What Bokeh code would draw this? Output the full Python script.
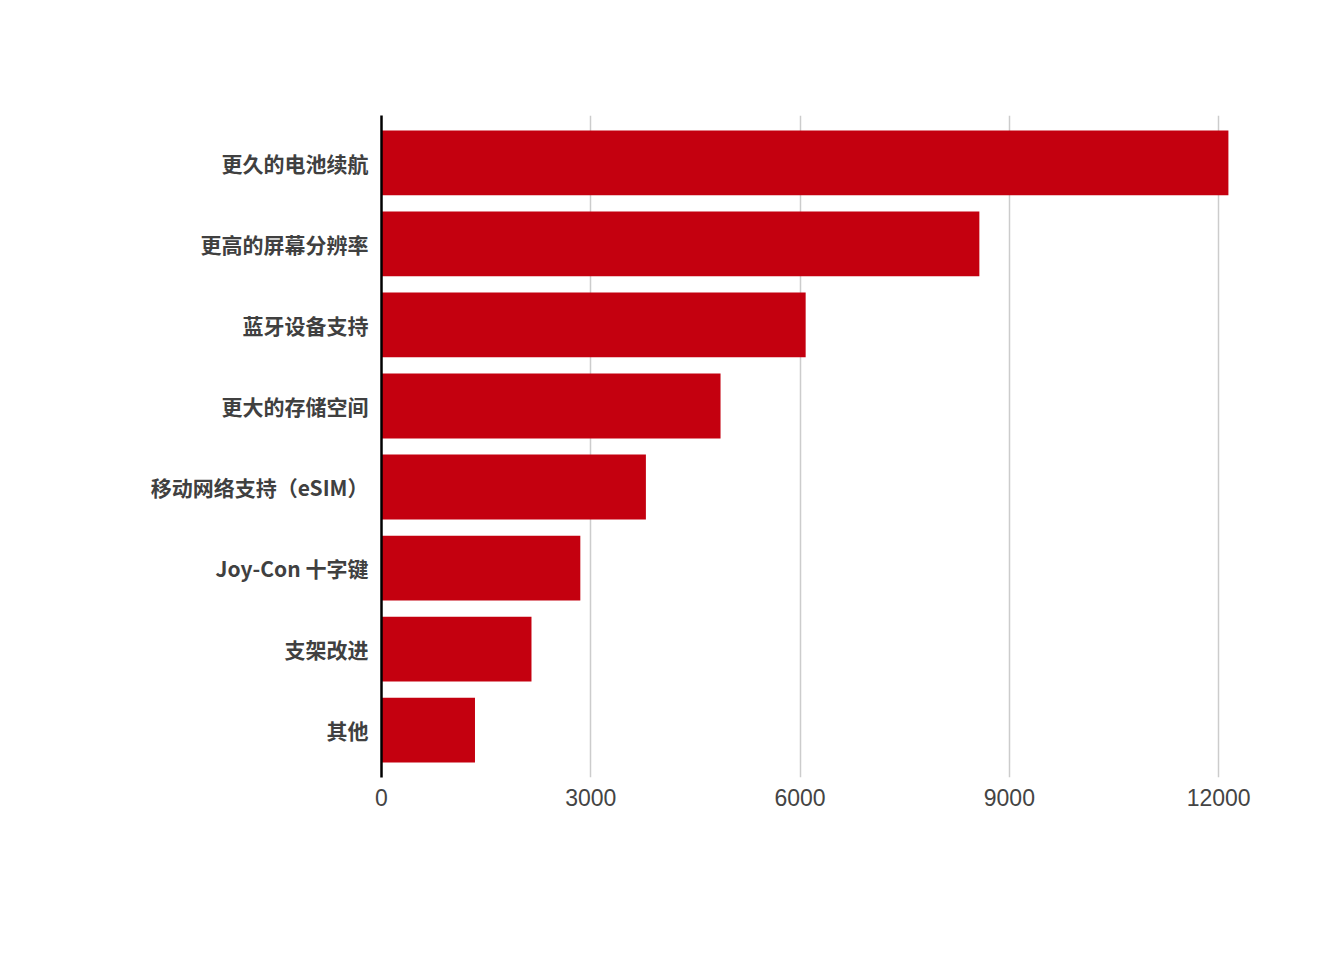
from bokeh.plotting import figure
from bokeh.models import FactorRange, Range1d, FixedTicker, ColumnDataSource
from bokeh.embed import file_html
from bokeh.resources import INLINE

categories = ["更久的电池续航", "更高的屏幕分辨率", "蓝牙设备支持", "更大的存储空间",
              "移动网络支持（eSIM）", "Joy-Con 十字键", "支架改进", "其他"]
values = [12140, 8570, 6080, 4860, 3790, 2850, 2150, 1340]
x_ticks = [0, 3000, 6000, 9000, 12000]

src = ColumnDataSource(dict(cat=categories, val=values))

y_range = FactorRange(factors=list(reversed(categories)), range_padding=0.0213)
p = figure(width=1320, height=940, y_range=y_range, x_range=Range1d(0, 12600),
           output_backend="svg", toolbar_location=None,
           min_border_left=381, min_border_right=60, min_border_top=115, min_border_bottom=163)
p.outline_line_color = None

p.hbar(y="cat", right="val", left=0, height=0.8, source=src, color="#c4000f", line_color=None)

p.xaxis.ticker = FixedTicker(ticks=x_ticks)
p.xaxis.axis_line_color = None
p.xaxis.major_tick_line_color = None
p.xaxis.minor_tick_line_color = None
p.xaxis.major_label_text_font = "Liberation Sans"
p.xaxis.major_label_text_font_size = "23px"
p.xaxis.major_label_text_color = "#444444"
p.xaxis.major_label_standoff = 5

p.yaxis.axis_line_color = "black"
p.yaxis.axis_line_width = 2.5
p.yaxis.major_tick_line_color = None
p.yaxis.minor_tick_line_color = None
p.yaxis.major_label_text_font = "Noto Sans CJK SC"
p.yaxis.major_label_text_font_style = "bold"
p.yaxis.major_label_text_font_size = "21px"
p.yaxis.major_label_text_color = "#404040"
p.yaxis.major_label_standoff = 7

p.ygrid.grid_line_color = None
p.xgrid.grid_line_color = "#cccccc"
p.xgrid.grid_line_width = 1.5

p.background_fill_color = "white"
p.border_fill_color = "white"

open("out.html", "w").write(file_html(p, INLINE))
